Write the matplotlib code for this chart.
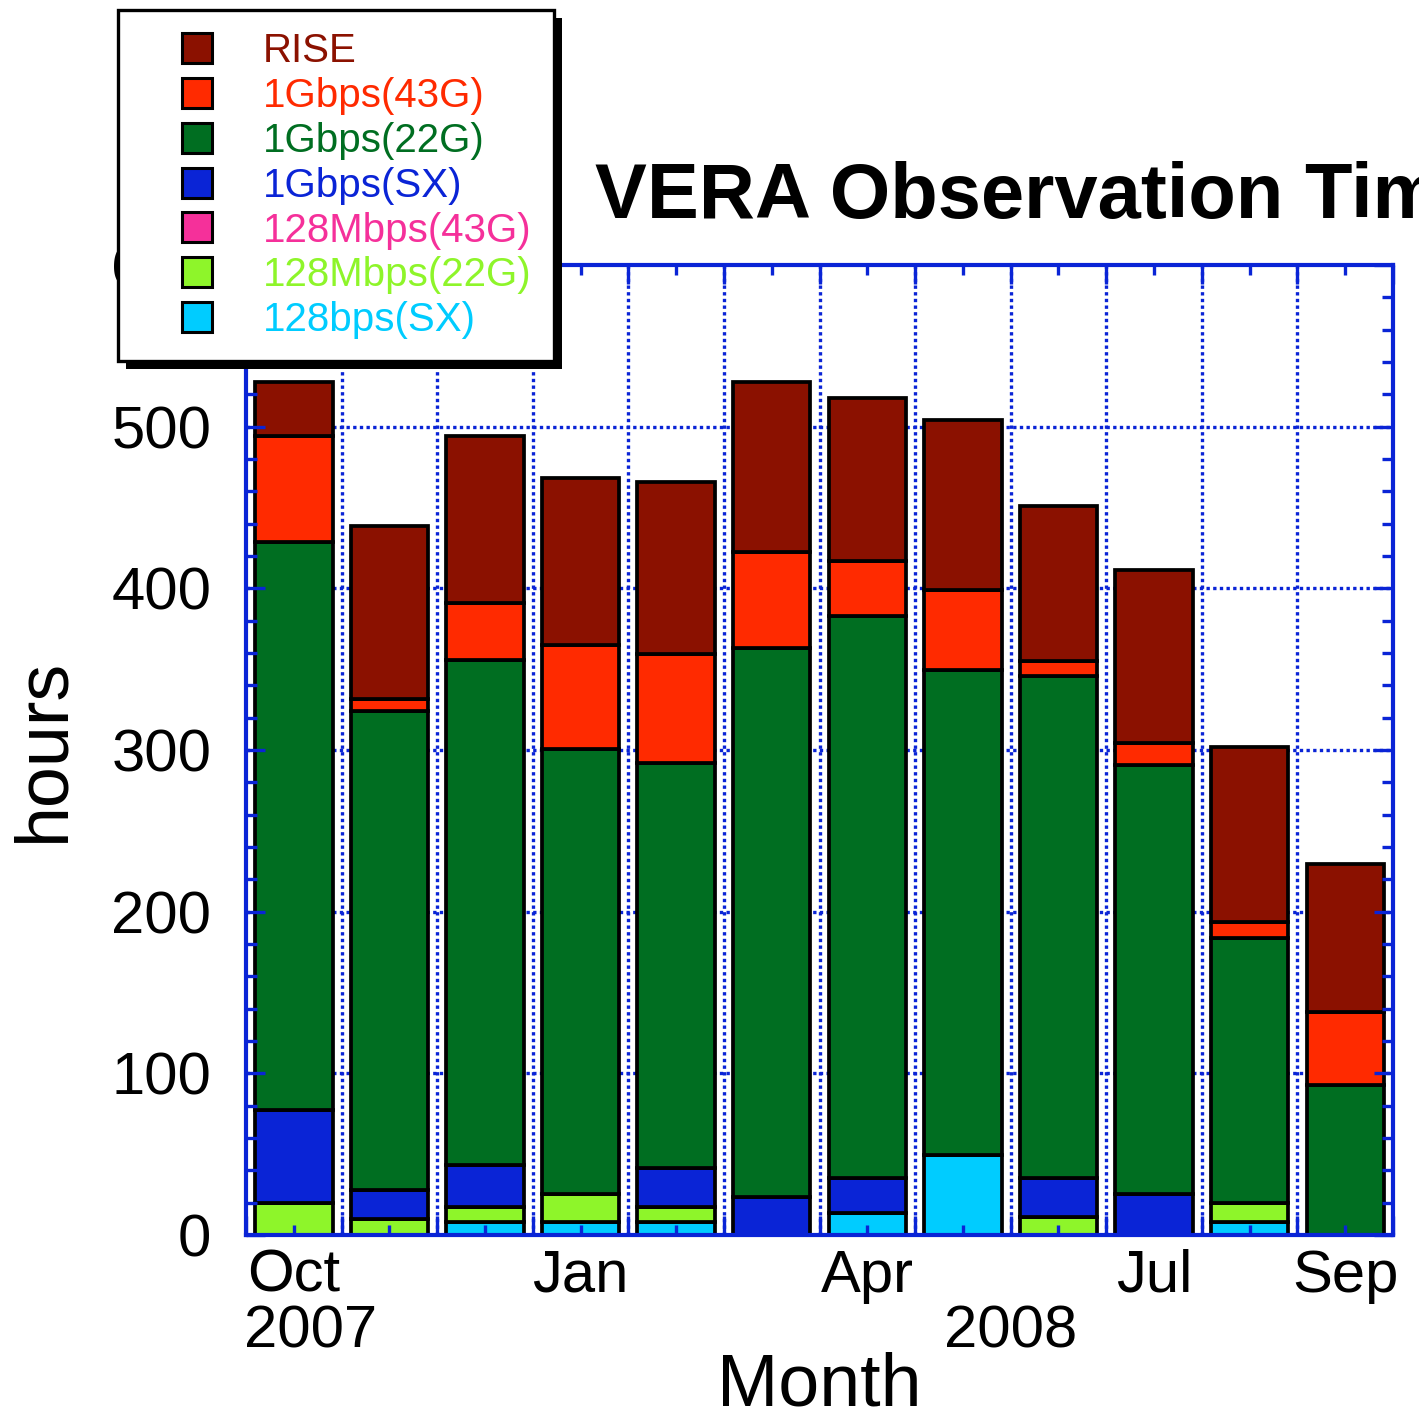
import numpy as np
import matplotlib
matplotlib.use("Agg")
import matplotlib.pyplot as plt
from matplotlib.lines import Line2D
from matplotlib.patches import Rectangle

plt.rcParams['font.family'] = ['Liberation Sans', 'DejaVu Sans']

# --- data (hours per month) ---
months = ['Oct', 'Nov', 'Dec', 'Jan', 'Feb', 'Mar', 'Apr', 'May', 'Jun', 'Jul', 'Aug', 'Sep']
month_labels = ['Oct', '', '', 'Jan', '', '', 'Apr', '', '', 'Jul', '', 'Sep']
year_labels = ['2007', '2008']
year_pos = [0.68, 8.0]

sx_128 = [0, 0, 8, 8, 8, 0, 13.4, 49.2, 0, 0, 8, 0]
k22_128 = [19.6, 9.7, 9.5, 17.4, 9.5, 0, 0, 0, 11.4, 0, 11.6, 0]
q43_128 = [0, 0, 0, 0, 0, 0, 0, 0, 0, 0, 0, 0]
sx_1g = [57.4, 17.8, 25.9, 0, 23.8, 23.4, 21.6, 0, 23.6, 25.2, 0, 0]
k22_1g = [351.6, 296.5, 312.1, 275.1, 250.7, 339.8, 348.1, 300.3, 310.6, 265.2, 164.0, 92.9]
q43_1g = [65.3, 7.7, 35.5, 64.5, 67.5, 59.5, 33.7, 49.5, 9.7, 13.7, 9.7, 45.1]
rise = [33.7, 107.1, 103.0, 103.4, 106.5, 105.0, 101.0, 104.9, 95.3, 106.9, 108.8, 91.2]

# bottom -> top stacking order
series = [
    ('128bps(SX)', sx_128, '#00CCFF'),
    ('128Mbps(22G)', k22_128, '#8EF52A'),
    ('128Mbps(43G)', q43_128, '#F5309A'),
    ('1Gbps(SX)', sx_1g, '#0A24D6'),
    ('1Gbps(22G)', k22_1g, '#006E21'),
    ('1Gbps(43G)', q43_1g, '#FF2A00'),
    ('RISE', rise, '#8B1100'),
]

blue = '#0A24D6'

fig = plt.figure(figsize=(14.19, 14.19), dpi=100)
ax = fig.add_axes([0.1734, 0.1297, 0.8083, 0.6836])

x = np.arange(len(months)) + 0.5
bottom = np.zeros(len(months))
for name, vals, col in series:
    vals = np.array(vals, dtype=float)
    ax.bar(x, vals, width=0.81, bottom=bottom, color=col, edgecolor='black',
           linewidth=2.7, zorder=1)
    bottom += vals

ax.set_xlim(0, 12)
ax.set_ylim(0, 600)

# dotted grid behind the bars
ax.vlines(np.arange(1, 12), 0, 600, colors=blue, linestyles=(0, (1, 1)), linewidth=2.4, zorder=0)
ax.hlines(np.arange(100, 600, 100), 0, 12, colors=blue, linestyles=(0, (1, 1)), linewidth=2.4, zorder=0)

for s in ax.spines.values():
    s.set_color(blue)
    s.set_linewidth(3)

ax.set_yticks(np.arange(0, 601, 100))
ax.set_yticks(np.arange(0, 601, 20), minor=True)
ax.set_xticks(np.arange(0, 13, 1))
ax.set_xticks(x, labels=month_labels, minor=True)
ax.set_xticklabels([])
ax.tick_params(axis='both', which='both', direction='in', color=blue, width=2.4,
               top=True, right=True, labelsize=43)
ax.tick_params(axis='y', which='major', length=14, pad=25)
ax.tick_params(axis='y', which='minor', length=8)
ax.tick_params(axis='x', which='major', length=14)
ax.tick_params(axis='x', which='minor', length=7, pad=10)

for lab, xp in zip(year_labels, year_pos):
    ax.text(xp, -0.1, lab, transform=ax.get_xaxis_transform(), ha='center', va='center',
            fontsize=43)

ax.set_xlabel('Month', fontsize=53, labelpad=34)
ax.set_ylabel('hours', fontsize=53, labelpad=24)

fig.text(595 / 1419, 1 - 218 / 1419, 'VERA Observation Time', fontsize=56,
         fontweight='bold', ha='left', va='baseline')

# legend (top of stack first)
handles = []
labels = []
colors = []
for name, vals, col in series[::-1]:
    handles.append(Line2D([], [], linestyle='none', marker='s', markersize=21,
                          markerfacecolor=col, markeredgecolor='black', markeredgewidth=2.2))
    labels.append(name)
    colors.append(col)

leg = fig.legend(handles, labels, loc='upper left', bbox_to_anchor=(118 / 1419, 1 - 10 / 1419),
                 bbox_transform=fig.transFigure, borderaxespad=0, fontsize=29,
                 labelcolor=colors, frameon=True, fancybox=False, framealpha=1,
                 facecolor='white', handlelength=2.8,
                 handletextpad=0.25, labelspacing=0.17, borderpad=0.55)
leg.get_frame().set_edgecolor('black')
leg.get_frame().set_linewidth(2.4)
leg.set_zorder(10)

fig.canvas.draw()
bb = leg.get_window_extent()
inv = fig.transFigure.inverted()
(x0, y0) = inv.transform((bb.x0 + 8, bb.y0 - 8))
(x1, y1) = inv.transform((bb.x1 + 8, bb.y1 - 8))
fig.add_artist(Rectangle((x0, y0), x1 - x0, y1 - y0, transform=fig.transFigure,
                         facecolor='black', edgecolor='none', zorder=9))

fig.savefig('out.png', dpi=100)
